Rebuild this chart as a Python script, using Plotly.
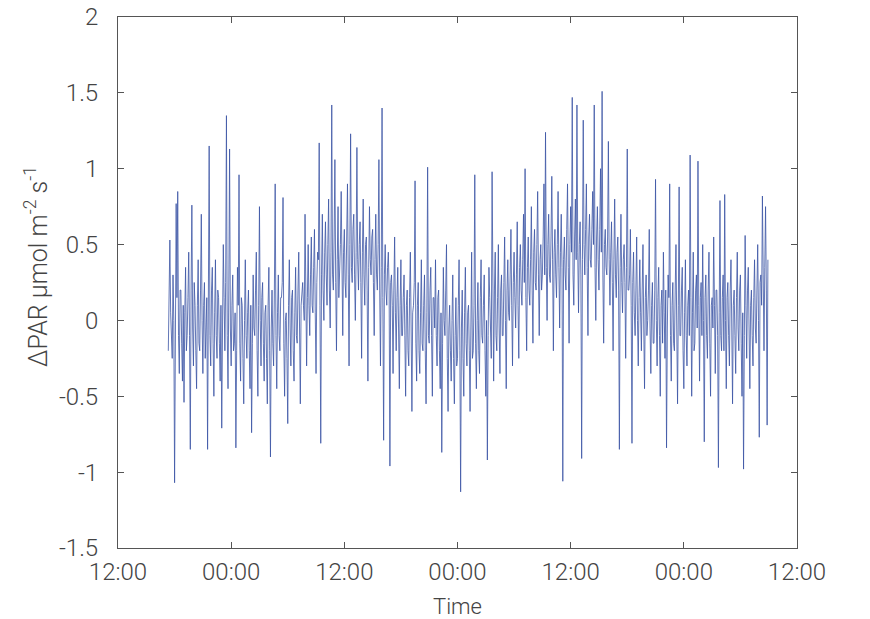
import plotly.graph_objects as go
import pandas as pd

start_time = "2021-06-01 17:20"
step_minutes = 5

dpar = [
    -0.2, 0.1, 0.53, 0.05, -0.15, -0.25, 0.3, 0.0, -1.07, -0.3, 0.77, 0.15, 0.85, -0.1, -0.35, 0.2, 0.2, -0.15, -0.4, 0.1,
    -0.54, 0.05, 0.35, -0.2, -0.1, 0.15, 0.45, -0.1, -0.85, 0.2, 0.76, -0.05, -0.3, 0.25, 0.1, -0.2, -0.45, 0.1, 0.4, -0.15,
    -0.2, 0.2, 0.7, 0.0, -0.35, 0.1, 0.25, -0.25, -0.1, 0.15, -0.85, 0.05, 1.15, -0.1, -0.3, 0.2, 0.35, -0.15, -0.5, 0.05,
    0.4, -0.1, -0.25, 0.2, 0.15, -0.15, -0.4, 0.1, -0.71, -0.05, 0.5, 0.15, -0.2, 0.25, 1.35, -0.1, -0.45, 0.2, 1.13, -0.05,
    -0.3, 0.1, 0.3, -0.2, -0.15, 0.05, -0.84, -0.2, 0.35, 0.1, 0.96, -0.15, -0.4, 0.15, 0.1, -0.25, -0.55, 0.0, 0.4, -0.1,
    -0.25, 0.05, 0.2, -0.2, -0.45, 0.1, -0.74, -0.15, 0.3, -0.05, -0.1, 0.2, 0.45, -0.2, -0.5, 0.1, 0.75, 0.0, -0.3, 0.15,
    0.25, -0.15, -0.4, 0.05, 0.1, -0.25, -0.55, 0.1, 0.35, -0.2, -0.9, -0.05, 0.2, -0.15, -0.3, 0.2, 0.9, -0.1, -0.45, 0.05,
    0.3, -0.1, -0.2, 0.15, 0.15, 0.25, 0.81, -0.15, -0.5, 0.0, 0.05, -0.25, -0.68, 0.1, 0.4, -0.05, -0.3, 0.15, 0.2, -0.2,
    -0.4, 0.05, 0.35, -0.1, -0.15, 0.2, 0.45, -0.05, -0.55, 0.1, 0.2, 0.25, 0.1, 0.0, 0.7, 0.3, -0.3, 0.15, 0.5, 0.1,
    -0.1, 0.3, 0.55, 0.1, 0.05, 0.35, 0.6, 0.05, -0.35, 0.25, 0.45, 0.4, 1.17, 0.1, -0.81, 0.3, 0.7, 0.2, 0.0, 0.45,
    0.65, 0.3, 0.1, 0.5, 0.8, 0.2, -0.05, 0.45, 1.42, 0.3, 0.2, 0.55, 1.06, 0.25, -0.2, 0.4, 0.75, 0.15, 0.3, 0.5,
    0.85, 0.35, -0.1, 0.45, 0.6, 0.25, 0.15, 0.55, 0.9, 0.3, -0.3, 0.5, 1.23, 0.35, 0.25, 0.6, 0.7, 0.3, 0.0, 0.45,
    1.14, 0.4, 0.2, 0.5, 0.65, 0.25, -0.25, 0.45, 0.8, 0.3, 0.1, 0.5, 0.55, 0.2, -0.4, 0.35, 0.75, 0.4, 0.3, 0.55,
    0.6, 0.25, -0.1, 0.4, 0.7, 0.3, 0.2, 0.5, 1.06, 0.2, -0.3, 0.35, 1.40, 0.15, -0.79, 0.3, 0.5, 0.2, 0.1, 0.35,
    0.45, 0.2, -0.96, 0.25, 0.3, 0.1, -0.35, 0.2, 0.55, 0.05, -0.2, 0.15, 0.35, -0.05, -0.45, 0.1, 0.4, -0.1, -0.1, 0.15,
    0.3, -0.1, -0.5, 0.1, 0.2, -0.2, -0.3, 0.15, 0.45, -0.05, -0.6, 0.05, 0.1, 0.25, 0.92, -0.15, -0.4, 0.1, 0.25, -0.2,
    -0.35, 0.05, 0.4, -0.15, -0.2, 0.1, 0.3, -0.2, -0.55, 0.05, 1.01, -0.1, -0.15, 0.2, 0.35, -0.1, -0.5, 0.15, 0.15, -0.05,
    0.4, -0.1, -0.3, 0.15, 0.2, -0.2, -0.45, 0.05, -0.87, -0.15, 0.35, 0.0, -0.1, 0.2, 0.5, -0.25, -0.6, -0.05, 0.1, -0.2,
    -0.4, 0.0, 0.3, -0.25, -0.55, -0.1, 0.15, -0.3, -0.25, 0.1, 0.4, -0.2, -1.13, -0.05, 0.2, -0.25, -0.5, 0.05, 0.35, -0.15,
    -0.3, 0.05, 0.1, -0.2, -0.6, -0.05, 0.45, -0.25, -0.2, 0.1, 0.96, -0.15, -0.45, 0.0, 0.25, -0.2, -0.35, 0.15, 0.4, -0.1,
    -0.15, 0.1, 0.3, -0.2, -0.5, 0.0, -0.92, -0.1, 0.35, 0.15, -0.1, -0.25, 0.98, 0.05, -0.4, 0.2, 0.45, -0.1, -0.2, 0.15,
    0.5, -0.05, -0.35, 0.2, 0.3, -0.1, -0.1, 0.25, 0.55, 0.0, -0.45, 0.2, 0.4, 0.05, 0.0, 0.3, 0.6, 0.1, -0.3, 0.25,
    0.45, 0.15, -0.05, 0.3, 0.65, 0.1, -0.25, 0.35, 0.5, 0.2, 0.1, 0.4, 0.7, 0.25, 1.0, 0.15, -0.2, 0.35, 0.55, 0.2,
    0.1, 0.4, 0.75, 0.2, -0.15, 0.45, 0.6, 0.25, 0.2, 0.5, 0.85, 0.3, -0.1, 0.4, 0.5, 0.2, 0.3, 0.55, 0.9, 0.3,
    1.24, 0.35, 0.0, 0.5, 0.7, 0.3, 0.25, 0.55, 0.95, 0.4, -0.2, 0.45, 0.6, 0.3, 0.15, 0.5, 0.85, 0.35, -0.05, 0.45,
    0.7, 0.35, -1.06, 0.4, 0.55, 0.3, 0.2, 0.6, 0.9, 0.35, -0.15, 0.5, 0.75, 0.45, 1.47, 0.3, 0.1, 0.55, 0.8, 0.4,
    1.42, 0.45, 0.05, 0.5, 0.65, 0.3, -0.91, 0.4, 1.32, 0.5, 0.3, 0.6, 0.9, 0.35, -0.1, 0.55, 0.7, 0.4, 0.35, 0.6,
    0.85, 0.5, 1.42, 0.35, 0.0, 0.55, 0.75, 0.4, 0.2, 0.6, 1.0, 0.45, 1.51, 0.3, -0.15, 0.5, 0.6, 0.35, 0.3, 0.55,
    1.18, 0.4, 0.1, 0.45, 0.65, 0.25, -0.2, 0.4, 0.8, 0.3, 0.15, 0.45, 0.55, 0.2, -0.85, 0.35, 0.7, 0.25, 0.05, 0.4,
    0.5, 0.25, -0.25, 0.35, 1.13, 0.2, 0.2, 0.3, 0.6, 0.1, -0.81, 0.25, 0.45, 0.05, -0.1, 0.2, 0.55, 0.0, -0.3, 0.15,
    0.4, 0.05, -0.2, 0.2, 0.5, -0.05, -0.45, 0.15, 0.3, -0.1, 0.0, 0.2, 0.6, -0.05, -0.35, 0.1, 0.25, -0.15, -0.15, 0.2,
    0.93, 0.0, -0.3, 0.15, 0.35, -0.1, -0.5, 0.1, 0.2, -0.15, 0.45, 0.05, -0.25, 0.2, -0.84, -0.05, 0.3, 0.15, 0.90, -0.1,
    -0.4, 0.1, 0.25, -0.15, -0.2, 0.2, 0.5, -0.05, -0.55, 0.1, 0.88, -0.1, -0.1, 0.2, 0.35, -0.2, -0.45, 0.05, 0.4, -0.1,
    -0.3, 0.1, 0.2, -0.1, 1.09, 0.15, -0.5, 0.05, 0.45, -0.2, -0.15, 0.2, 0.3, -0.05, 1.05, 0.1, -0.4, 0.15, 0.25, -0.1,
    0.5, 0.0, -0.8, 0.15, 0.3, -0.1, -0.25, 0.2, 0.45, -0.15, -0.5, 0.1, 0.15, -0.05, 0.55, 0.1, -0.35, 0.2, 0.2, -0.1,
    -0.97, 0.05, 0.79, -0.1, -0.2, 0.15, 0.3, -0.2, 0.83, 0.0, -0.45, 0.15, 0.25, -0.1, -0.3, 0.2, 0.4, -0.05, -0.55, 0.1,
    0.2, -0.1, -0.35, 0.15, 0.45, -0.05, -0.2, 0.2, 0.3, -0.15, -0.5, 0.05, -0.98, -0.1, 0.56, 0.1, -0.25, 0.2, 0.35, -0.05,
    -0.45, 0.1, 0.2, -0.1, -0.3, 0.15, 0.4, -0.05, -0.15, 0.2, 0.5, 0.0, -0.77, 0.25, 0.3, 0.1, 0.82, 0.3, -0.2, 0.35,
    0.75, 0.2, -0.69, 0.4,
]

times = pd.date_range(start=start_time, periods=len(dpar), freq=f"{step_minutes}min")

y_tickvals = [2, 1.5, 1, 0.5, 0, -0.5, -1, -1.5]
y_ticktext = ["2", "1.5", "1", "0.5", "0", "-0.5", "-1", "-1.5"]
x_range = ["2021-06-01 12:00", "2021-06-04 12:00"]

font_family = "Roboto"
text_color = "#444444"
axis_color = "#555555"

fig = go.Figure()
fig.add_trace(go.Scatter(
    x=times, y=dpar, mode="lines",
    line=dict(color="#3b54a5", width=0.8),
    showlegend=False,
))

fig.update_layout(
    width=862, height=611,
    margin=dict(l=110, r=73, t=9, b=71),
    paper_bgcolor="white", plot_bgcolor="white",
    font=dict(family=font_family, color=text_color, size=24, weight=300),
)
fig.update_xaxes(
    range=x_range, tickformat="%H:%M", dtick=12 * 3600 * 1000,
    tick0="2021-06-01 12:00", automargin=False,
    showgrid=False, zeroline=False,
    showline=True, linecolor=axis_color, linewidth=1, mirror="ticks",
    ticks="inside", ticklen=6, tickcolor=axis_color,
    ticklabelstandoff=2, ticklabeloverflow="allow",
    tickfont=dict(size=24, family=font_family, color=text_color, weight=300),
)
fig.update_yaxes(
    range=[-1.5, 2], tickvals=y_tickvals, ticktext=y_ticktext,
    automargin=False,
    showgrid=False, zeroline=False,
    showline=True, linecolor=axis_color, linewidth=1, mirror="ticks",
    ticks="inside", ticklen=6, tickcolor=axis_color,
    ticklabelstandoff=14, ticklabeloverflow="allow",
    tickfont=dict(size=24, family=font_family, color=text_color, weight=300),
)
fig.add_annotation(
    text="Time", xref="paper", yref="paper",
    x=0.5, y=-58 / 531, xanchor="center", yanchor="middle", showarrow=False,
    font=dict(size=22, family=font_family, color=text_color, weight=300),
)
fig.add_annotation(
    text="ΔPAR μmol m<sup>-2</sup> s<sup>-1</sup>", xref="paper", yref="paper",
    x=(36 - 118) / 679, y=(548 - 267) / 531, xanchor="center", yanchor="middle",
    textangle=-90, showarrow=False,
    font=dict(size=25, family=font_family, color=text_color, weight=300),
)

fig.write_html("out.html")
